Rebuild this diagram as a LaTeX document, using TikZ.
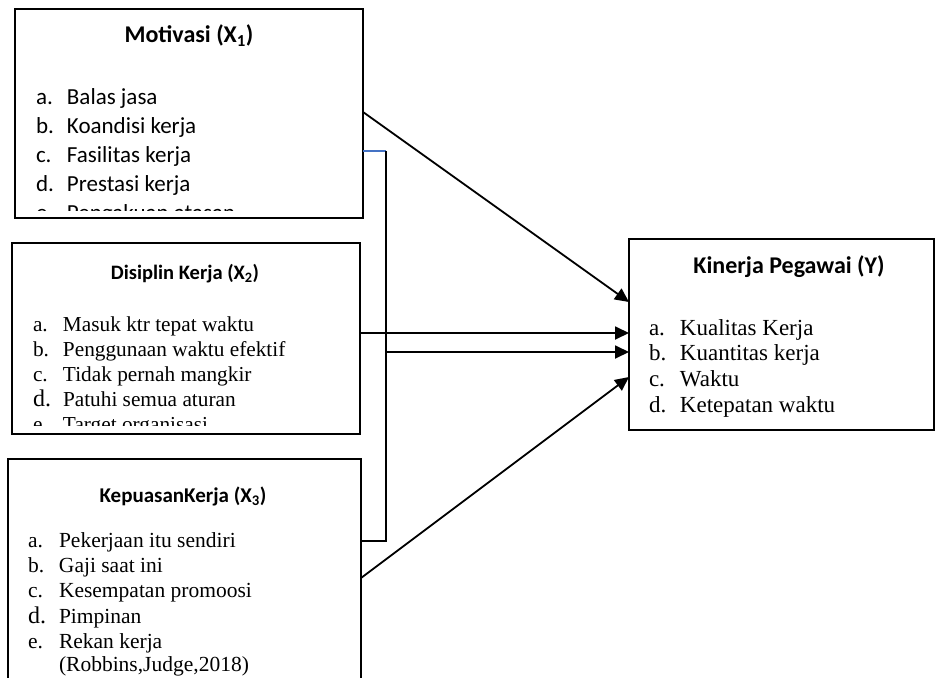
\documentclass[tikz,border=0pt]{standalone}
\usepackage{fontspec}
\setmainfont{Liberation Serif}
\newfontfamily\carlito{Carlito}
\usetikzlibrary{arrows.meta,calc}
\definecolor{wordblue}{HTML}{4472C4}
\newcommand\myfs[1]{\fontsize{#1}{#1}\selectfont}
\begin{document}
\begin{tikzpicture}[x=1pt,y=-1pt,
  box/.style={draw, line width=1.3pt, inner sep=0pt, outer sep=0pt, anchor=north west},
  itm/.style={anchor=base west, inner sep=0pt, outer sep=0pt},
  ttl/.style={anchor=base, inner sep=0pt, outer sep=0pt},
  conn/.style={line width=1.8pt},
  arr/.style={conn, -{Triangle[length=14pt,width=13pt]}}]
\clip (0,0) rectangle (936,677);
\fill[white] (0,0) rectangle (936,677);

% Box X1
\node[box, minimum width=348pt, minimum height=209pt] (x1) at (15,9) {};
\node[ttl, font=\carlito\bfseries\myfs{24}] (x1t) at (189,43) {Motivasi (X\textsubscript{1})};
\node[itm, font=\carlito\myfs{23}] (x1a) at (36,104) {\makebox[31pt][l]{a.}Balas jasa};
\node[itm, font=\carlito\myfs{23}] (x1b) at (36,133) {\makebox[31pt][l]{b.}Koandisi kerja};
\node[itm, font=\carlito\myfs{23}] (x1c) at (36,162) {\makebox[31pt][l]{c.}Fasilitas kerja};
\node[itm, font=\carlito\myfs{23}] (x1d) at (36,191) {\makebox[31pt][l]{d.}Prestasi kerja};
\begin{scope}
\clip (15,9) rectangle (363,210);
\node[itm, font=\carlito\myfs{23}] (x1e) at (36,220) {\makebox[31pt][l]{e.}Pengakuan atasan};
\end{scope}

% Box X2
\node[box, minimum width=348pt, minimum height=191pt] (x2) at (12,243) {};
\node[ttl, font=\carlito\bfseries\myfs{20.5}] (x2t) at (185,279) {Disiplin Kerja (X\textsubscript{2})};
\node[itm, font=\myfs{21.3}] (x2a) at (33,331) {\makebox[30pt][l]{a.}Masuk ktr tepat waktu};
\node[itm, font=\myfs{21.3}] (x2b) at (33,356) {\makebox[30pt][l]{b.}Penggunaan waktu efektif};
\node[itm, font=\myfs{21.3}] (x2c) at (33,381) {\makebox[30pt][l]{c.}Tidak pernah mangkir};
\node[itm, font=\myfs{21.3}] (x2d) at (33,406) {\makebox[30pt][l]{\myfs{24}d.}Patuhi semua aturan};
\begin{scope}
\clip (12,243) rectangle (360,425);
\node[itm, font=\myfs{21.3}] (x2e) at (33,431) {\makebox[30pt][l]{e.}Target organisasi};
\end{scope}

% Box X3
\node[box, minimum width=353pt, minimum height=240pt] (x3) at (8,459) {};
\node[ttl, font=\carlito\bfseries\myfs{21}] (x3t) at (183,502) {KepuasanKerja (X\textsubscript{3})};
\node[itm, font=\myfs{21.5}] (x3a) at (28,547) {\makebox[31pt][l]{a.}Pekerjaan itu sendiri};
\node[itm, font=\myfs{21.5}] (x3b) at (28,572) {\makebox[31pt][l]{b.}Gaji saat ini};
\node[itm, font=\myfs{21.5}] (x3c) at (28,597) {\makebox[31pt][l]{c.}Kesempatan promoosi};
\node[itm, font=\myfs{21.5}] (x3d) at (28,623) {\makebox[31pt][l]{\myfs{24}d.}Pimpinan};
\node[itm, font=\myfs{21.5}] (x3e) at (28,648) {\makebox[31pt][l]{e.}Rekan kerja};
\node[itm, font=\myfs{21.5}] (x3r) at (59,671) {(Robbins,Judge,2018)};

% Box Y
\node[box, minimum width=305pt, minimum height=191pt] (y) at (629,239) {};
\node[ttl, font=\carlito\bfseries\myfs{24}] (yt) at (789,273) {Kinerja Pegawai (Y)};
\node[itm, font=\myfs{23}] (ya) at (649,335) {\makebox[31pt][l]{a.}Kualitas Kerja};
\node[itm, font=\myfs{23}] (yb) at (649,360) {\makebox[31pt][l]{b.}Kuantitas kerja};
\node[itm, font=\myfs{23}] (yc) at (649,386) {\makebox[31pt][l]{c.}Waktu};
\node[itm, font=\myfs{23}] (yd) at (649,412) {\makebox[31pt][l]{d.}Ketepatan waktu};

% connectors
\coordinate (jt) at (386,151);
\coordinate (jm) at (386,352);
\coordinate (jb) at (386,541);
\draw[arr] ($(x1.north east)+(0,103)$) -- ($(y.north west)+(0,63)$);
\draw[arr] ($(x2.north east)+(0,90)$) -- ($(y.north west)+(0,94)$);
\draw[wordblue, line width=1.5pt] ($(x1.north east)+(0,142)$) -- (jt);
\draw[conn] (jt) -- (jb) -- ($(x3.north east)+(0,82)$);
\draw[arr] (jm) -- ($(y.north west)+(0,113)$);
\draw[arr] ($(x3.north east)+(0,119)$) -- ($(y.north west)+(0,138)$);
\end{tikzpicture}
\end{document}
